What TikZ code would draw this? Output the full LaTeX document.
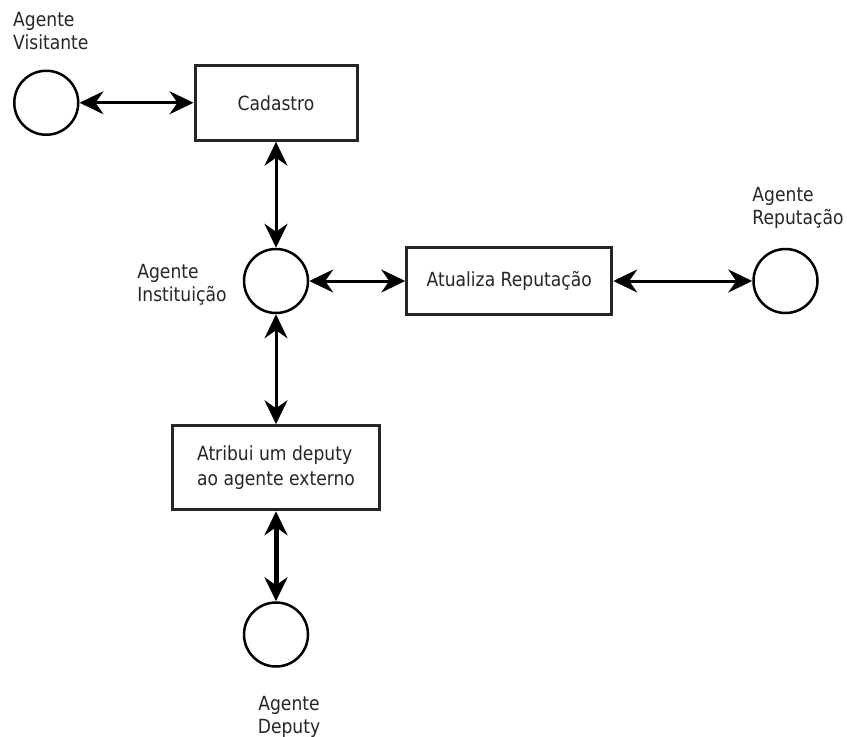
\documentclass[tikz,border=0pt]{standalone}
\usepackage{fontspec}
\setmainfont{DejaVu Sans}[FakeStretch=0.88]
\usetikzlibrary{positioning,arrows.meta}

\begin{document}
\begin{tikzpicture}[
        x = 1pt, y = 1pt,
        >={Stealth[length=24pt,width=23pt,inset=8pt]},
        process/.style={
            % The shape
            rectangle,
            minimum width = 162pt,
            minimum height = 75pt,
            % The border
            line width = 3pt,
            draw = black,
            % The color
            color = black!85,
            % Font
            font = \fontsize{19.5}{25}\selectfont
        },
        agent/.style={
            % The shape
            circle,
            minimum size = 64pt,
            inner sep = 0pt,
            % The border
            line width = 2.5pt,
            draw = black
        },
        agentName/.style={
            % The shape
            inner sep = 0pt,
            % The color
            color = black!85,
            % Font
            font = \fontsize{19.5}{23}\selectfont
        },
        link/.style={
            % The border
            line width = 3pt,
            % The tips
            <->
        },
    ]
        \useasboundingbox (0,0) rectangle (847,-737);

        \node (instituicao) [agent] at (276,-281) {};
        \node (instituicaoName) [agentName,align=left,left=16pt of instituicao,yshift=-4pt] {Agente \\ Instituição};

        \node (cadastro) [process,above=106pt of instituicao] {Cadastro};
        \path (cadastro) edge[link] (instituicao);

        \node (visitante) [agent,left=114pt of cadastro] {};
        \node (visitanteName) [agentName,align=left,anchor=south west] at ([yshift=20pt]visitante.north -| visitante.west) {Agente \\ Visitante};
        \path (visitante) edge[link] (cadastro);

        \node (atualiza) [process,minimum width=205pt,minimum height=67pt,right=96pt of instituicao] {Atualiza Reputação};
        \path (instituicao) edge[link] (atualiza);

        \node (reputacao) [agent,right=139pt of atualiza] {};
        \node (reputacaoName) [agentName,align=left,anchor=south west] at ([yshift=19pt]reputacao.north -| reputacao.west) {Agente \\ Reputação};
        \path (atualiza) edge[link] (reputacao);

        \node (atribui) [process,minimum width=207pt,minimum height=84pt,align=left,below=110pt of instituicao] {Atribui um deputy \\ ao agente externo};
        \path (instituicao) edge[link] (atribui);

        \node (deputy) [agent,below=90pt of atribui] {};
        \node (deputyName) [agentName,align=center,below=28pt of deputy,xshift=13pt] {Agente \\ Deputy};
        \path (atribui) edge[link,line width=5pt] (deputy);

    \end{tikzpicture}
\end{document}
